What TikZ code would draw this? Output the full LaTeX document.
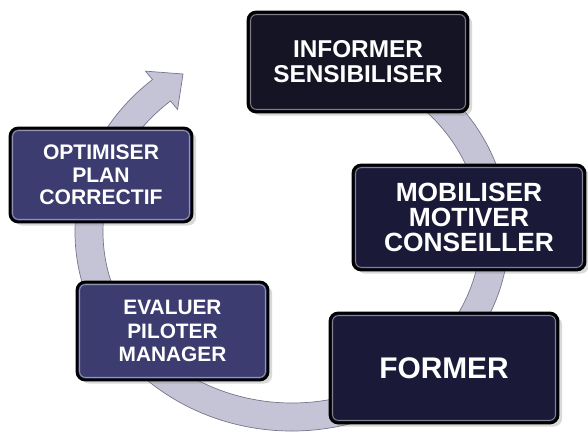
\documentclass[tikz,border=0pt]{standalone}
\usepackage{fontspec}
\setmainfont{Liberation Sans}
\usetikzlibrary{shadows}

\definecolor{boxblack}{RGB}{20,20,36}
\definecolor{boxdark}{RGB}{26,26,56}
\definecolor{boxslate}{RGB}{60,60,112}
\definecolor{ringfill}{RGB}{196,196,214}
\definecolor{ringedge}{RGB}{118,118,140}

\begin{document}
\begin{tikzpicture}[x=0.03cm, y=0.03cm,
		actionbox/.style={draw=black, line width=2.4pt, rounded corners=7pt, text=white, align=center,
			drop shadow={shadow xshift=3.5pt, shadow yshift=-3pt, opacity=0.3}},
		bevel/.style={draw=white, opacity=0.45, line width=0.8pt, rounded corners=5pt}]

	\useasboundingbox (0,0) rectangle (588,436);

	% ring arrow
	\coordinate (ringc) at (292,204);
	\begin{scope}[shift={(ringc)}]
		\filldraw[fill=ringfill, draw=ringedge, line width=0.6pt]
			(55:217 and 199) arc[start angle=55, end angle=-230, x radius=217, y radius=199]
			-- (130:228 and 210) -- (-109,158) -- (130:178 and 160)
			-- (130:189 and 171) arc[start angle=-230, end angle=55, x radius=189, y radius=171] -- cycle;
	\end{scope}

	% boxes
	\node[actionbox, fill=boxblack, minimum width=6.6cm, minimum height=3cm,
		font=\bfseries\fontsize{20.8}{21.5}\selectfont] (inform) at (358,374) {INFORMER\\SENSIBILISER};
	\node[actionbox, fill=boxslate, minimum width=5.46cm, minimum height=2.82cm,
		font=\bfseries\fontsize{18}{19.3}\selectfont] (optim) at (101,261) {OPTIMISER\\PLAN\\CORRECTIF};
	\node[actionbox, fill=boxdark, minimum width=6.96cm, minimum height=3.15cm,
		font=\bfseries\fontsize{22.5}{21.5}\selectfont] (mobil) at (469,218.5) {MOBILISER\\MOTIVER\\CONSEILLER};
	\node[actionbox, fill=boxslate, minimum width=5.73cm, minimum height=2.94cm,
		font=\bfseries\fontsize{17.8}{20}\selectfont] (evalu) at (172.5,105) {EVALUER\\PILOTER\\MANAGER};
	\node[actionbox, fill=boxdark, minimum width=6.84cm, minimum height=3.3cm,
		font=\bfseries\fontsize{25.5}{26}\selectfont] (form) at (444,68) {FORMER};

	\foreach \b in {inform,optim,mobil,evalu,form}
		\draw[bevel] ([shift={(4,4)}]\b.south west) rectangle ([shift={(-4,-4)}]\b.north east);

\end{tikzpicture}
\end{document}
